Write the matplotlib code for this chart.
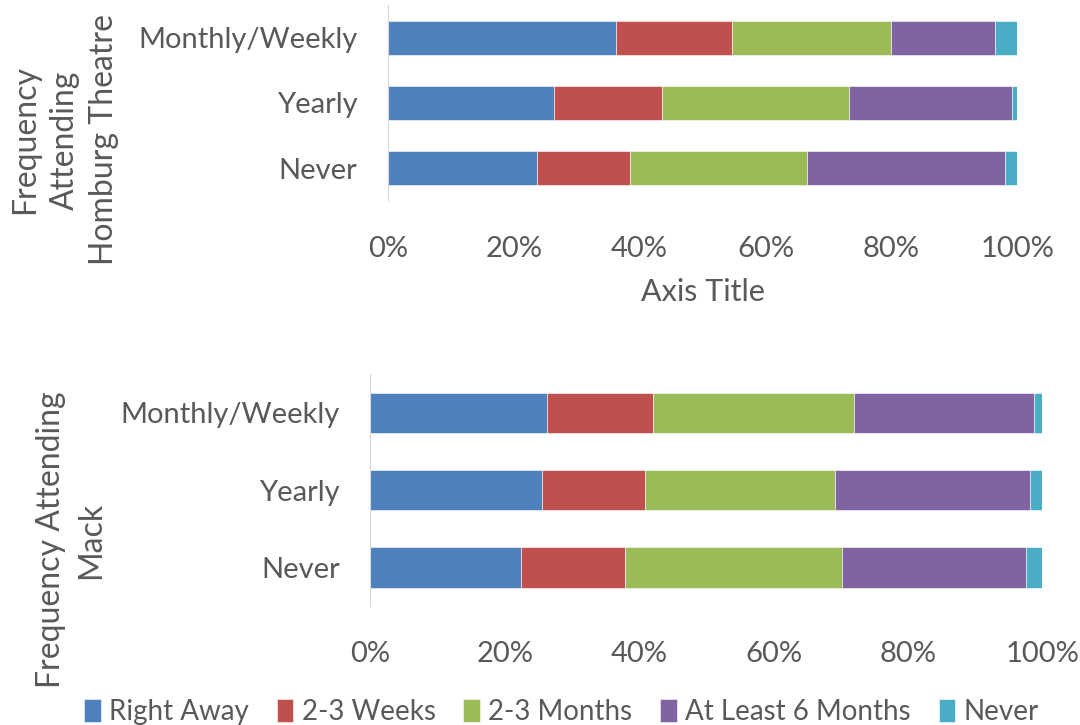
import numpy as np
import matplotlib.pyplot as plt
from matplotlib.ticker import PercentFormatter

plt.rcParams['font.family'] = ['Lato', 'DejaVu Sans']

# categories and series (percent of respondents)
freq = ['Never', 'Yearly', 'Monthly/Weekly']
series = ['Right Away', '2-3 Weeks', '2-3 Months', 'At Least 6 Months', 'Never']
colors = ['#4F81BD', '#C0504D', '#9BBB59', '#8064A2', '#4BACC6']

# Homburg Theatre (rows follow freq order)
homburg = {
    'Right Away':        [23.7, 26.4, 36.3],
    '2-3 Weeks':         [14.8, 17.2, 18.3],
    '2-3 Months':        [28.1, 29.7, 25.4],
    'At Least 6 Months': [31.4, 25.8, 16.4],
    'Never':             [2.0, 0.9, 3.6],
}

# Mack
mack = {
    'Right Away':        [22.4, 25.6, 26.3],
    '2-3 Weeks':         [15.5, 15.2, 15.8],
    '2-3 Months':        [32.3, 28.4, 29.9],
    'At Least 6 Months': [27.4, 29.0, 26.8],
    'Never':             [2.4, 1.8, 1.2],
}

grey = '#595959'


def draw(ax, data):
    y = np.arange(len(freq))
    left = np.zeros(len(freq))
    for name, col in zip(series, colors):
        vals = np.array(data[name])
        ax.barh(y, vals, left=left, height=0.52, color=col,
                edgecolor='white', linewidth=0.4, label=name)
        left += vals
    ax.set_xlim(0, 100)
    ax.set_ylim(-0.5, 2.5)
    ax.set_yticks(y)
    ax.set_yticklabels(freq)
    ax.set_xticks(np.arange(0, 101, 20))
    ax.xaxis.set_major_formatter(PercentFormatter(decimals=0))
    ax.tick_params(length=0, labelsize=21, colors=grey)
    ax.tick_params(axis='x', pad=25)
    ax.tick_params(axis='y', pad=22)
    for s in ['top', 'right', 'bottom']:
        ax.spines[s].set_visible(False)
    ax.spines['left'].set_color('#D9D9D9')


fig = plt.figure(figsize=(10.8, 7.25), dpi=100)
ax1 = fig.add_axes([0.359, 0.723, 0.583, 0.270])
ax2 = fig.add_axes([0.343, 0.164, 0.622, 0.320])

draw(ax1, homburg)
ax1.set_xlabel('Axis Title', fontsize=22, color=grey, labelpad=12)
draw(ax2, mack)

fig.text(0.060, 0.807, 'Frequency\nAttending\nHomburg Theatre', rotation=90,
         ha='center', va='center', multialignment='center', fontsize=23,
         color=grey, linespacing=1.4)
fig.text(0.066, 0.255, 'Frequency Attending\nMack', rotation=90,
         ha='center', va='center', multialignment='center', fontsize=23,
         color=grey, linespacing=1.4)

handles, labels = ax2.get_legend_handles_labels()
fig.legend(handles, labels, loc='lower center', ncol=5, frameon=False,
           bbox_to_anchor=(0.52, -0.035), fontsize=20, labelcolor=grey,
           handlelength=0.6, handleheight=0.9, handletextpad=0.3,
           columnspacing=1.0)

fig.savefig('out.png', dpi=100, facecolor='white')
